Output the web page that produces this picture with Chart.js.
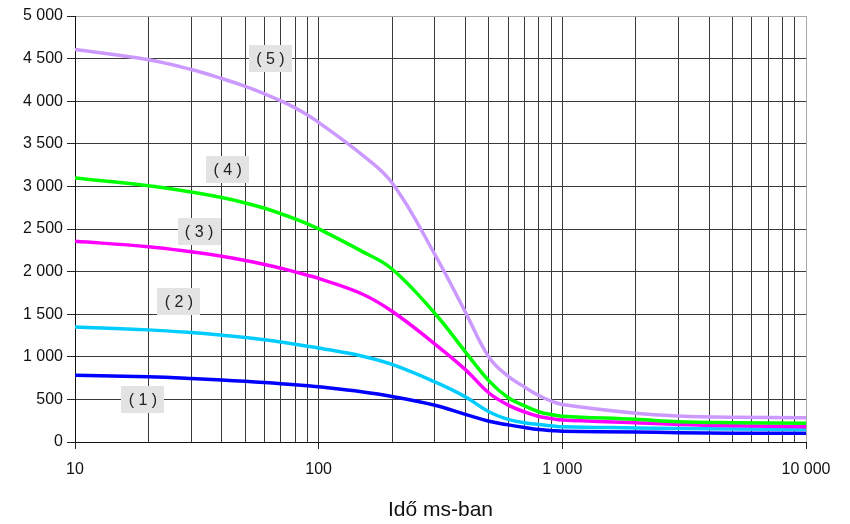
<!DOCTYPE html>
<html>
<head>
<meta charset="utf-8">
<script src="https://cdn.jsdelivr.net/npm/chart.js@4/dist/chart.umd.min.js"></script>
<style>
  html, body { margin: 0; padding: 0; background: #fff; }
  #wrap { width: 850px; height: 524px; position: relative; }
</style>
</head>
<body>
<div id="wrap"><canvas id="c"></canvas></div>
<script>
// Time in ms (logarithmic x axis)
const times = [10, 20, 30, 40, 50, 60, 70, 80, 90, 100, 150, 200, 300, 400, 500, 600, 700, 800, 900, 1000, 2000, 3000, 5000, 10000];

// Curves (1) .. (5)
const curve1 = [784, 765, 746, 728, 712, 698, 685, 672, 660, 648, 590, 535, 432, 324, 244, 201, 170, 147, 136, 127, 118, 110, 104, 102];
const curve2 = [1351, 1316, 1284, 1254, 1226, 1199, 1173, 1148, 1125, 1103, 1010, 910, 705, 530, 355, 265, 225, 205, 190, 178, 165, 158, 152, 148];
const curve3 = [2356, 2293, 2233, 2181, 2130, 2083, 2039, 1997, 1957, 1920, 1740, 1535, 1150, 850, 575, 433, 353, 300, 275, 257, 227, 205, 190, 180];
const curve4 = [3098, 3008, 2934, 2869, 2806, 2743, 2679, 2618, 2559, 2501, 2240, 2031, 1508, 1058, 718, 520, 425, 355, 322, 302, 266, 239, 227, 219];
const curve5 = [4606, 4486, 4372, 4266, 4174, 4087, 4003, 3922, 3838, 3751, 3375, 3042, 2200, 1525, 995, 770, 645, 545, 480, 440, 337, 305, 290, 285];

const curveNames = ['( 1 )', '( 2 )', '( 3 )', '( 4 )', '( 5 )'];

// Tick values
const xTickValues = [10, 20, 30, 40, 50, 60, 70, 80, 90,
                     100, 200, 300, 400, 500, 600, 700, 800, 900,
                     1000, 2000, 3000, 4000, 5000, 6000, 7000, 8000, 9000, 10000];
const yMin = 0, yMax = 5000, yStep = 500;

// Where each curve tag sits (x in ms, y in value units)
const tagAnchors = [
  { x: 19.0, y: 493 },
  { x: 26.7, y: 1650 },
  { x: 32.3, y: 2465 },
  { x: 42.3, y: 3193 },
  { x: 63.4, y: 4500 }
];

const colors = ['#0000ff', '#00ccff', '#ff00ff', '#00ff00', '#cc99ff'];
const seriesValues = [curve1, curve2, curve3, curve4, curve5];

function spaced(v) {
  return String(v).replace(/\B(?=(\d{3})+(?!\d))/g, ' ');
}
function isDecade(v) {
  const l = Math.log10(v);
  return Math.abs(l - Math.round(l)) < 1e-9;
}

const FONT = "'Liberation Sans', Arial, sans-serif";

const tagPlugin = {
  id: 'curveTags',
  afterDatasetsDraw(chart) {
    const ctx = chart.ctx;
    const xs = chart.scales.x, ys = chart.scales.y;
    ctx.save();
    ctx.font = '16px ' + FONT;
    ctx.textAlign = 'center';
    ctx.textBaseline = 'middle';
    tagAnchors.forEach((a, i) => {
      const px = xs.getPixelForValue(a.x);
      const py = ys.getPixelForValue(a.y);
      const w = 43, h = 27;
      ctx.fillStyle = '#e3e3e3';
      ctx.fillRect(Math.round(px - w / 2), Math.round(py - h / 2), w, h);
      ctx.fillStyle = '#222';
      ctx.fillText(curveNames[i], px, py + 1);
    });
    ctx.restore();
  }
};

const datasets = seriesValues.map((vals, i) => ({
  label: curveNames[i],
  data: times.map((t, k) => ({ x: t, y: vals[k] })),
  borderColor: colors[i],
  backgroundColor: colors[i],
  borderWidth: 3.5,
  pointRadius: 0,
  tension: 0.4,
  fill: false
})).reverse();

new Chart(document.getElementById('c'), {
  type: 'line',
  data: { datasets },
  plugins: [tagPlugin],
  options: {
    responsive: true,
    maintainAspectRatio: false,
    animation: false,
    events: [],
    layout: { padding: { top: 16, right: 44, left: 0, bottom: 0 } },
    plugins: { legend: { display: false }, tooltip: { enabled: false } },
    scales: {
      x: {
        type: 'logarithmic',
        min: 10,
        max: 10000,
        afterBuildTicks(scale) {
          scale.ticks = xTickValues.map(v => ({ value: v, major: isDecade(v) }));
        },
        afterFit(scale) { scale.height = 82; },
        ticks: {
          autoSkip: false,
          maxRotation: 0,
          padding: 11,
          color: '#111',
          font: { family: FONT, size: 16 },
          callback(v) { return isDecade(v) ? spaced(v) : ''; }
        },
        grid: {
          color(ctx) { return ctx.tick && ctx.tick.value === 10000 ? '#a8a8a8' : '#3a3a3a'; },
          lineWidth: 1,
          tickLength: 7,
          tickColor(ctx) { return ctx.tick && isDecade(ctx.tick.value) ? '#222' : 'rgba(0,0,0,0)'; }
        },
        border: { color: '#111', width: 1 },
        title: {
          display: true,
          text: 'Idő ms-ban',
          color: '#111',
          font: { family: FONT, size: 21 },
          padding: { top: 0, bottom: 1 }
        }
      },
      y: {
        min: yMin,
        max: yMax,
        afterFit(scale) { scale.width = 75; },
        ticks: {
          stepSize: yStep,
          padding: 4,
          color: '#111',
          font: { family: FONT, size: 16 },
          callback(v) { return spaced(v); }
        },
        grid: {
          color(ctx) { return ctx.tick && ctx.tick.value === yMax ? '#a8a8a8' : '#3a3a3a'; },
          lineWidth: 1,
          tickLength: 8,
          tickColor: '#222'
        },
        border: { color: '#111', width: 1 }
      }
    }
  }
});
</script>
</body>
</html>
